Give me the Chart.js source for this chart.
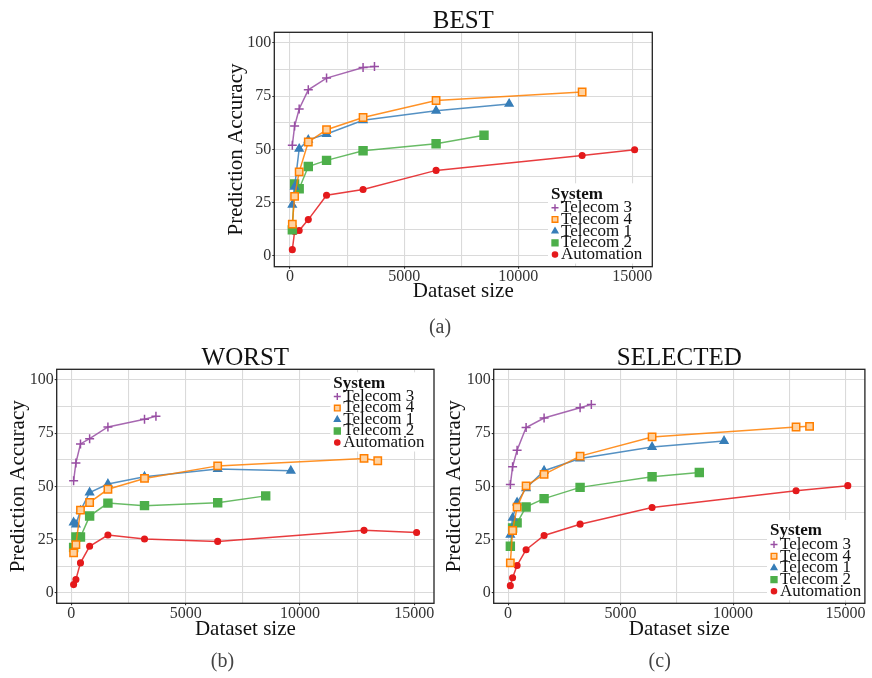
<!DOCTYPE html>
<html>
<head>
<meta charset="utf-8">
<script src="https://cdn.jsdelivr.net/npm/chart.js@4.4.1/dist/chart.umd.min.js"></script>
<style>
  body { margin: 0; background: #fff; width: 872px; height: 678px; overflow: hidden; position: relative; }
  canvas { position: absolute; }
</style>
</head>
<body>
<canvas id="best" width="470" height="345" style="left:200px;top:0px"></canvas>
<canvas id="worst" width="445" height="338" style="left:0px;top:340px"></canvas>
<canvas id="selected" width="436" height="338" style="left:436px;top:340px"></canvas>
<script>
// systems, in legend order
const systems = ["Telecom 3", "Telecom 4", "Telecom 1", "Telecom 2", "Automation"];

// dataset sizes per system
const sizesTelecom3 = [100, 200, 400, 800, 1600, 3200, 3700];
const sizesTelecom4 = [100, 200, 400, 800, 1600, 3200, 6400, 12800, 13400];
const sizesTelecom1 = [100, 200, 400, 800, 1600, 3200, 6400, 9600];
const sizesTelecom2 = [100, 200, 400, 800, 1600, 3200, 6400, 8500];
const sizesAutomation = [100, 200, 400, 800, 1600, 3200, 6400, 12800, 15100];

// BEST
const bestTelecom3 = [52, 61, 69, 78, 83.5, 88.5, 89];
const bestTelecom4 = [15, 28, 39.5, 53.5, 59.3, 65, 73, 77];
const bestTelecom1 = [24, 32.5, 50.3, 54.5, 57.3, 63.7, 68.2, 71.4];
const bestTelecom2 = [12.3, 33.8, 31.6, 42, 44.9, 49.4, 52.7, 56.7];
const bestAutomation = [3, 11.5, 12, 17.1, 28.5, 31.2, 40.2, 47.2, 49.9];

// WORST
const worstTelecom3 = [52.6, 61, 69.9, 72.4, 77.9, 81.5, 82.9];
const worstTelecom4 = [18.7, 22.6, 38.8, 42.4, 48.6, 53.7, 59.6, 63.1, 62];
const worstTelecom1 = [33, 32, 38.6, 47.1, 51.1, 54.5, 58.1, 57.3];
const worstTelecom2 = [21.2, 26.2, 26.2, 36, 42.1, 40.9, 42.3, 45.5];
const worstAutomation = [3.8, 6.2, 14, 21.8, 27.1, 25.2, 24.1, 29.3, 28.3];

// SELECTED
const selTelecom3 = [50.9, 59.2, 67, 77.6, 82.1, 86.9, 88.5];
const selTelecom4 = [14, 29.2, 40.2, 50.2, 55.6, 64.2, 73.2, 77.9, 78.2];
const selTelecom1 = [27.2, 35.2, 42.4, 49.1, 57.3, 63.1, 68.5, 71.3];
const selTelecom2 = [21.8, 30.4, 32.8, 40.3, 44.2, 49.5, 54.5, 56.5];
const selAutomation = [3.3, 7, 12.8, 20.2, 26.9, 32.2, 40, 47.9, 50.3];

// axis ticks (grid every tick, labels on the major ones)
const xTicks = [0, 2500, 5000, 7500, 10000, 12500, 15000];
const yTicks = [0, 12.5, 25, 37.5, 50, 62.5, 75, 87.5, 100];

const sizeLists = [sizesTelecom3, sizesTelecom4, sizesTelecom1, sizesTelecom2, sizesAutomation];

// look of each system
const colors = ["#984EA3", "#FF7F00", "#377EB8", "#4DAF4A", "#E41A1C"];
const lineColors = ["rgba(152,78,163,0.85)", "rgba(255,127,0,0.85)", "rgba(55,126,184,0.85)", "rgba(77,175,74,0.85)", "rgba(228,26,28,0.85)"];
const fills = ["#984EA3", "#FFD2A0", "#377EB8", "#4DAF4A", "#E41A1C"];
const pointStyles = ["cross", "rect", "triangle", "rect", "circle"];
const pointSizes = [4.5, 5.2, 4.4, 5.6, 2.8];
const legendSizes = [3.5, 4, 3.3, 4.2, 2.6];

const serif = '"Liberation Serif", "Times New Roman", serif';

const panelDecor = {
  id: "panelDecor",
  afterDraw(chart, args, o) {
    const { ctx, chartArea: a } = chart;
    ctx.save();
    ctx.textBaseline = "middle";
    // panel title
    ctx.textAlign = "center";
    ctx.fillStyle = "#111";
    ctx.font = "25px " + serif;
    ctx.fillText(o.title, (a.left + a.right) / 2, o.titleY);
    // sub caption
    ctx.fillStyle = "#444";
    ctx.font = "20px " + serif;
    ctx.fillText(o.caption, o.captionX, o.captionY);
    // legend
    const ds = chart.data.datasets;
    const top = o.legY - 11;
    const bottom = Math.min(o.legY + o.legStep * 5.15 + 9, a.bottom);
    const right = Math.min(o.legX + 101, a.right);
    ctx.fillStyle = "#fff";
    ctx.fillRect(o.legX - 3, top, right - o.legX + 3, bottom - top);
    ctx.textAlign = "left";
    ctx.fillStyle = "#111";
    ctx.font = "bold 17px " + serif;
    ctx.fillText("System", o.legX, o.legY);
    ctx.font = "17px " + serif;
    ds.forEach((d, i) => {
      const y = o.legY + o.legStep * (i + 1.15);
      ctx.fillStyle = "#111";
      ctx.fillText(d.label, o.legX + 10, y);
      ctx.fillStyle = d.pointBackgroundColor;
      ctx.strokeStyle = d.pointBorderColor;
      ctx.lineWidth = 1.4;
      Chart.helpers.drawPoint(ctx, { pointStyle: d.pointStyle, radius: legendSizes[i], rotation: 0, borderWidth: 1.4 }, o.legX + 4, y);
    });
    // panel border on top
    ctx.strokeStyle = "#222";
    ctx.lineWidth = 1.3;
    ctx.strokeRect(a.left, a.top, a.right - a.left, a.bottom - a.top);
    ctx.restore();
  }
};

function makeDatasets(values) {
  return systems.map((name, i) => ({
    label: name,
    data: values[i].map((v, k) => ({ x: sizeLists[i][k], y: v })),
    borderColor: lineColors[i],
    borderWidth: 1.5,
    pointStyle: pointStyles[i],
    pointRadius: pointSizes[i],
    pointBorderWidth: 1.5,
    pointBackgroundColor: fills[i],
    pointBorderColor: colors[i],
    tension: 0
  }));
}

function makeChart(id, values, L) {
  const tickMark = (c) => (c.tick && c.tick.label !== "" ? "#333" : "rgba(0,0,0,0)");
  new Chart(document.getElementById(id), {
    type: "line",
    data: { datasets: makeDatasets(values) },
    plugins: [panelDecor],
    options: {
      responsive: false,
      animation: false,
      events: [],
      layout: { padding: L.pad },
      plugins: {
        legend: { display: false },
        tooltip: { enabled: false },
        panelDecor: L.decor
      },
      scales: {
        x: {
          type: "linear",
          min: L.xMin,
          max: L.xMax,
          afterBuildTicks: (s) => { s.ticks = xTicks.map((v) => ({ value: v })); },
          afterFit: (s) => { s.height = L.xHeight; },
          ticks: {
            autoSkip: false,
            maxRotation: 0,
            padding: 0,
            color: "#333",
            font: { family: serif, size: 16, lineHeight: 1 },
            callback: (v) => (v % 5000 === 0 ? String(v) : "")
          },
          grid: { color: "#DADADA", lineWidth: 1.1, tickLength: 2, tickColor: tickMark },
          border: { display: false },
          title: { display: true, text: "Dataset size", color: "#111", padding: 0, font: { family: serif, size: 21 } }
        },
        y: {
          min: -5,
          max: 105,
          afterBuildTicks: (s) => { s.ticks = yTicks.map((v) => ({ value: v })); },
          afterFit: (s) => { s.width = L.yWidth; },
          ticks: {
            autoSkip: false,
            padding: 1,
            color: "#333",
            font: { family: serif, size: 16, lineHeight: 1 },
            callback: (v) => (v % 25 === 0 ? String(v) : "")
          },
          grid: { color: "#DADADA", lineWidth: 1.1, tickLength: 2, tickColor: tickMark },
          border: { display: false },
          title: { display: true, text: "Prediction Accuracy", color: "#111", padding: 0, font: { family: serif, size: 21 } }
        }
      }
    }
  });
}

makeChart("best", [bestTelecom3, bestTelecom4, bestTelecom1, bestTelecom2, bestAutomation], {
  pad: { left: 24, right: 17.7, top: 32.3, bottom: 40.7 },
  yWidth: 50.3, xHeight: 37.6, xMin: -690, xMax: 15875,
  decor: { title: "BEST", titleY: 21.7, caption: "(a)", captionX: 240, captionY: 328,
           legX: 351, legY: 194.3, legStep: 11.7 }
});

makeChart("worst", [worstTelecom3, worstTelecom4, worstTelecom1, worstTelecom2, worstAutomation], {
  pad: { left: 5.7, right: 11, top: 29.3, bottom: 36.1 },
  yWidth: 51, xHeight: 38.6, xMin: -640, xMax: 15860,
  decor: { title: "WORST", titleY: 18.3, caption: "(b)", captionX: 222.5, captionY: 321.7,
           legX: 333.3, legY: 43.3, legStep: 11.5 }
});

makeChart("selected", [selTelecom3, selTelecom4, selTelecom1, selTelecom2, selAutomation], {
  pad: { left: 5.7, right: 2, top: 29.3, bottom: 36.1 },
  yWidth: 52, xHeight: 38.6, xMin: -640, xMax: 15860,
  decor: { title: "SELECTED", titleY: 18.3, caption: "(c)", captionX: 223.7, captionY: 321.7,
           legX: 334, legY: 191, legStep: 11.7 }
});
</script>
</body>
</html>
